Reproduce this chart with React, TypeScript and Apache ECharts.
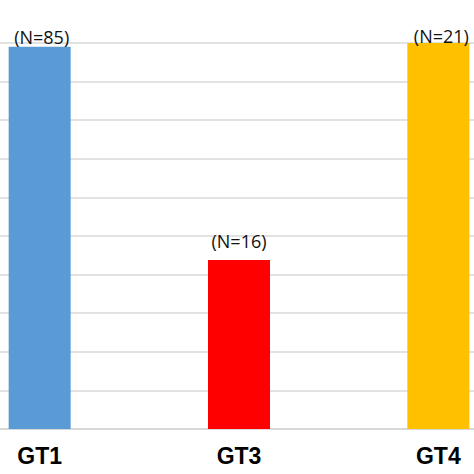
import React, { useEffect, useRef } from "react";
import * as echarts from "echarts";

const categories = ["GT1", "GT3", "GT4"];
const values = [99, 43.8, 100];
const nLabels = ["(N=85)", "(N=16)", "(N=21)"];
const colors = ["#5B9BD5", "#FF0000", "#FFC000"];
const labelDistances = [1, 10, -2];
const labelOffsets = [[2, 0], [0, 0], [3, 0]];

export default function App() {
  const ref = useRef<HTMLDivElement>(null);
  useEffect(() => {
    if (!ref.current) return;
    const chart = echarts.init(ref.current, null, { renderer: "svg" });
    chart.setOption({
      animation: false,
      backgroundColor: "#ffffff",
      grid: { left: -60, right: -64, top: 43, bottom: 45, outerBoundsMode: "none", containLabel: false },
      xAxis: {
        type: "category",
        data: categories,
        axisTick: { show: false },
        axisLine: { show: true, lineStyle: { color: "#d4d4d4", width: 1.5 } },
        axisLabel: {
          margin: 15,
          fontFamily: "Liberation Sans",
          fontWeight: "bold",
          fontSize: 23,
          color: "#000000",
        },
      },
      yAxis: {
        type: "value",
        min: 0,
        max: 100,
        interval: 10,
        axisLabel: { show: false },
        axisLine: { show: false },
        axisTick: { show: false },
        splitLine: { lineStyle: { color: "#d9d9d9", width: 1.5 } },
      },
      series: [
        {
          type: "bar",
          barWidth: 62,
          data: values.map((v, i) => ({
            value: v,
            itemStyle: { color: colors[i] },
            label: {
              show: true,
              position: "top",
              distance: labelDistances[i],
              offset: labelOffsets[i],
              formatter: nLabels[i],
              fontFamily: "Open Sans",
              fontSize: 18,
              color: "#111111",
            },
          })),
        },
      ],
    });
    return () => chart.dispose();
  }, []);
  return <div ref={ref} style={{ width: 474, height: 474, position: "fixed", left: 0, top: 0 }} />;
}
